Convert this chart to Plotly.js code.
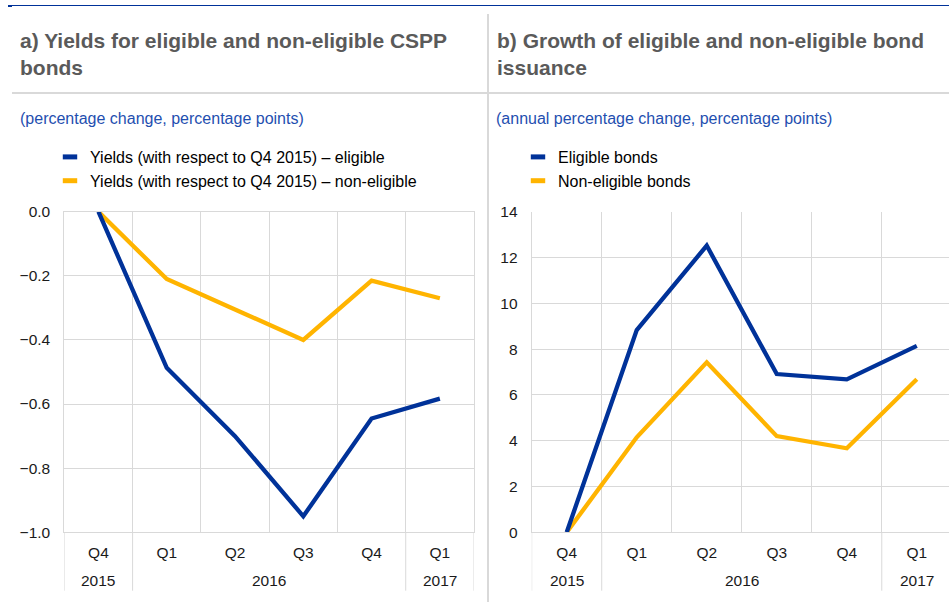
<!DOCTYPE html>
<html>
<head>
<meta charset="utf-8">
<script src="https://cdn.plot.ly/plotly-3.0.1.min.js"></script>
<style>
html,body{margin:0;padding:0;background:#fff;overflow:hidden;}
#chart{width:949px;height:602px;}
</style>
</head>
<body>
<div id="chart"></div>
<script>
// ---- data ----
const years    = ["2015","2016","2016","2016","2016","2017"];
const quarters = ["Q4","Q1","Q2","Q3","Q4","Q1"];

const yieldsEligible    = [0, -0.487, -0.70, -0.95, -0.645, -0.583];
const yieldsNonEligible = [0, -0.21, -0.305, -0.40, -0.215, -0.27];

const issuanceEligible    = [0, 8.83, 12.52, 6.91, 6.68, 8.14];
const issuanceNonEligible = [0, 4.15, 7.42, 4.20, 3.67, 6.68];

const namesA = ["Yields (with respect to Q4 2015) – eligible", "Yields (with respect to Q4 2015) – non-eligible"];
const namesB = ["Eligible bonds", "Non-eligible bonds"];

const titleA = "a) Yields for eligible and non-eligible CSPP<br>bonds";
const titleB = "b) Growth of eligible and non-eligible bond<br>issuance";
const subA = "(percentage change, percentage points)";
const subB = "(annual percentage change, percentage points)";

// ---- style ----
const BLUE = "#003299", YELLOW = "#ffb400", GRID = "#d9d9d9";
const FONT = "Arial, 'Liberation Sans', sans-serif";
const W = 949, H = 602;
const px = v => v / W;
const py = v => 1 - v / H;

// category positions, boundaries and year groups derived from the arrays
const idx = quarters.map((q, i) => i);
const bounds = [-0.5].concat(idx.map(i => i + 0.5));
const groups = [];
years.forEach((y, i) => {
  const g = groups[groups.length - 1];
  if (g && g.label === y) g.end = i; else groups.push({label: y, start: i, end: i});
});
const dividers = [groups[0].start - 0.5].concat(groups.map(g => g.end + 0.5));

function lineTrace(y, color, xa, ya) {
  return {x: idx, y: y, type: "scatter", mode: "lines",
    line: {color: color, width: 4.3}, xaxis: xa, yaxis: ya,
    showlegend: false, hoverinfo: "skip"};
}
function legendTrace(name, color, xa, ya, leg) {
  return {x: idx, y: idx.map(() => null), type: "scatter", mode: "markers", name: name,
    marker: {symbol: "line-ew", size: 10.3, color: color, line: {width: 5, color: color}},
    xaxis: xa, yaxis: ya, legend: leg, showlegend: true, hoverinfo: "skip"};
}

const data = [
  lineTrace(yieldsNonEligible, YELLOW, "x", "y"),
  lineTrace(yieldsEligible, BLUE, "x", "y"),
  lineTrace(issuanceNonEligible, YELLOW, "x2", "y2"),
  lineTrace(issuanceEligible, BLUE, "x2", "y2"),
  legendTrace(namesA[0], BLUE, "x", "y", "legend"),
  legendTrace(namesA[1], YELLOW, "x", "y", "legend"),
  legendTrace(namesB[0], BLUE, "x2", "y2", "legend2"),
  legendTrace(namesB[1], YELLOW, "x2", "y2", "legend2")
];

const tickFont = {family: FONT, size: 15.5, color: "#1a1a1a"};
function xAxis(domain, range, mirror, anchor) {
  return {domain: domain, range: range, anchor: anchor,
    tickmode: "array", tickvals: idx, ticktext: quarters,
    showgrid: false, zeroline: false,
    minor: {tickmode: "array", tickvals: bounds, showgrid: true, gridcolor: GRID, gridwidth: 1, ticks: ""},
    showline: true, linecolor: GRID, linewidth: 1, mirror: mirror,
    ticks: "", ticklabelstandoff: 6, tickfont: tickFont, fixedrange: true};
}
function yAxis(domain, range, dtick, fmt, anchor, mirror) {
  return {domain: domain, range: range, dtick: dtick, tick0: 0, tickformat: fmt,
    showgrid: true, gridcolor: GRID, gridwidth: 1, zeroline: false,
    showline: true, linecolor: GRID, linewidth: 1, mirror: mirror,
    ticks: "", ticklabelstandoff: 10, tickfont: tickFont, anchor: anchor, fixedrange: true};
}

const yDom = [py(532.3), py(211.7)];
const DIV_BOTTOM = py(590.7);
const YEAR_Y = py(580.7);

const legendStyle = (x) => ({x: px(x), y: py(140), xanchor: "left", yanchor: "top",
  orientation: "v", bgcolor: "rgba(0,0,0,0)", borderwidth: 0,
  font: {family: FONT, size: 16, color: "#000"}, tracegroupgap: 0});

const annotations = [
  {text: titleA, x: px(18), y: py(27), xref: "paper", yref: "paper", xanchor: "left", yanchor: "top",
    align: "left", showarrow: false, font: {family: FONT, size: 21, color: "#5a5a5a", weight: "bold"}},
  {text: titleB, x: px(495), y: py(27), xref: "paper", yref: "paper", xanchor: "left", yanchor: "top",
    align: "left", showarrow: false, font: {family: FONT, size: 21, color: "#5a5a5a", weight: "bold"}},
  {text: subA, x: px(18), y: py(118), xref: "paper", yref: "paper", xanchor: "left", yanchor: "middle",
    align: "left", showarrow: false, font: {family: FONT, size: 16, color: "#1f4fb0"}},
  {text: subB, x: px(494), y: py(118), xref: "paper", yref: "paper", xanchor: "left", yanchor: "middle",
    align: "left", showarrow: false, font: {family: FONT, size: 16, color: "#1f4fb0"}}
];
const shapes = [
  {type: "line", xref: "paper", yref: "paper", x0: px(8), x1: 1, y0: py(5.5), y1: py(5.5), line: {color: BLUE, width: 1}},
  {type: "rect", xref: "paper", yref: "paper", x0: px(8), x1: px(12), y0: py(5), y1: py(7), line: {width: 0}, fillcolor: BLUE},
  {type: "line", xref: "paper", yref: "paper", x0: px(12), x1: 1, y0: py(93), y1: py(93), line: {color: GRID, width: 2}},
  {type: "line", xref: "paper", yref: "paper", x0: px(488), x1: px(488), y0: py(14), y1: 0, line: {color: GRID, width: 2}}
];
["x", "x2"].forEach(xr => {
  groups.forEach(g => annotations.push({text: g.label, x: (g.start + g.end) / 2, y: YEAR_Y,
    xref: xr, yref: "paper", xanchor: "center", yanchor: "middle", showarrow: false,
    font: tickFont}));
  dividers.forEach(d => shapes.push({type: "line", xref: xr, yref: "paper",
    x0: d, x1: d, y0: DIV_BOTTOM, y1: yDom[0], line: {color: GRID, width: 1}}));
});

const layout = {
  width: W, height: H, margin: {l: 0, r: 0, t: 0, b: 0},
  paper_bgcolor: "#fff", plot_bgcolor: "#fff",
  font: {family: FONT},
  xaxis: xAxis([px(64.3), px(474)], [-0.5, 5.5], true, "y"),
  yaxis: yAxis(yDom, [-1, 0], 0.2, ".1f", "x", true),
  xaxis2: xAxis([px(531.7), 1], [-0.5, 5.46], false, "y2"),
  yaxis2: yAxis(yDom, [0, 14], 2, "d", "x2", false),
  legend: legendStyle(50),
  legend2: legendStyle(518),
  annotations: annotations,
  shapes: shapes
};

Plotly.newPlot("chart", data, layout, {staticPlot: true, displayModeBar: false});
</script>
</body>
</html>
